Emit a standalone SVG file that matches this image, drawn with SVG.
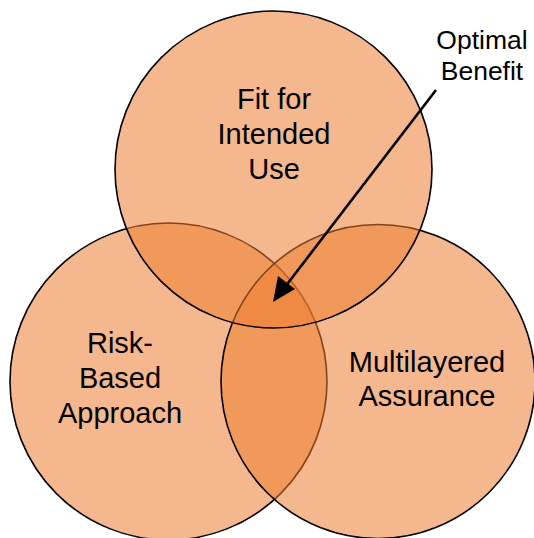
<svg xmlns="http://www.w3.org/2000/svg" width="534" height="538" viewBox="0 0 534 538">
<style>
.c{fill:#ED7D31;fill-opacity:0.55;stroke:#000;stroke-width:1.6}
.t{font-family:"Liberation Sans",Arial,sans-serif;font-size:29px;fill:#000;text-anchor:middle}
.s{font-family:"Liberation Sans",Arial,sans-serif;font-size:26.5px;fill:#000;text-anchor:middle}
</style>
<defs>
<marker id="ah" markerWidth="10" markerHeight="10" refX="9" refY="5" orient="auto" markerUnits="userSpaceOnUse" viewBox="0 0 10 10">
<path d="M0,0 L10,5 L0,10 z" fill="#000"/>
</marker>
</defs>
<rect width="534" height="538" fill="#fff"/>
<g id="risk">
<circle class="c" cx="168.5" cy="381.5" r="158.5"/>
<text class="t" x="120" y="353">Risk-</text>
<text class="t" x="120" y="388">Based</text>
<text class="t" x="120" y="423">Approach</text>
</g>
<g id="assurance">
<circle class="c" cx="378" cy="381.5" r="157"/>
<text class="t" x="427" y="372">Multilayered</text>
<text class="t" x="427" y="406">Assurance</text>
</g>
<g id="fit">
<circle class="c" cx="273.5" cy="169.5" r="158.5"/>
<text class="t" x="274" y="109">Fit for</text>
<text class="t" x="274" y="144">Intended</text>
<text class="t" x="274" y="179">Use</text>
</g>
<g id="optimal">
<text class="s" x="482" y="49">Optimal</text>
<text class="s" x="482" y="80">Benefit</text>
</g>
<g id="connectors">
<line x1="436" y1="90" x2="285" y2="287" stroke="#000" stroke-width="2.6"/>
<path d="M273,302 L278,276 L295,289 z" fill="#000"/>
</g>
</svg>
